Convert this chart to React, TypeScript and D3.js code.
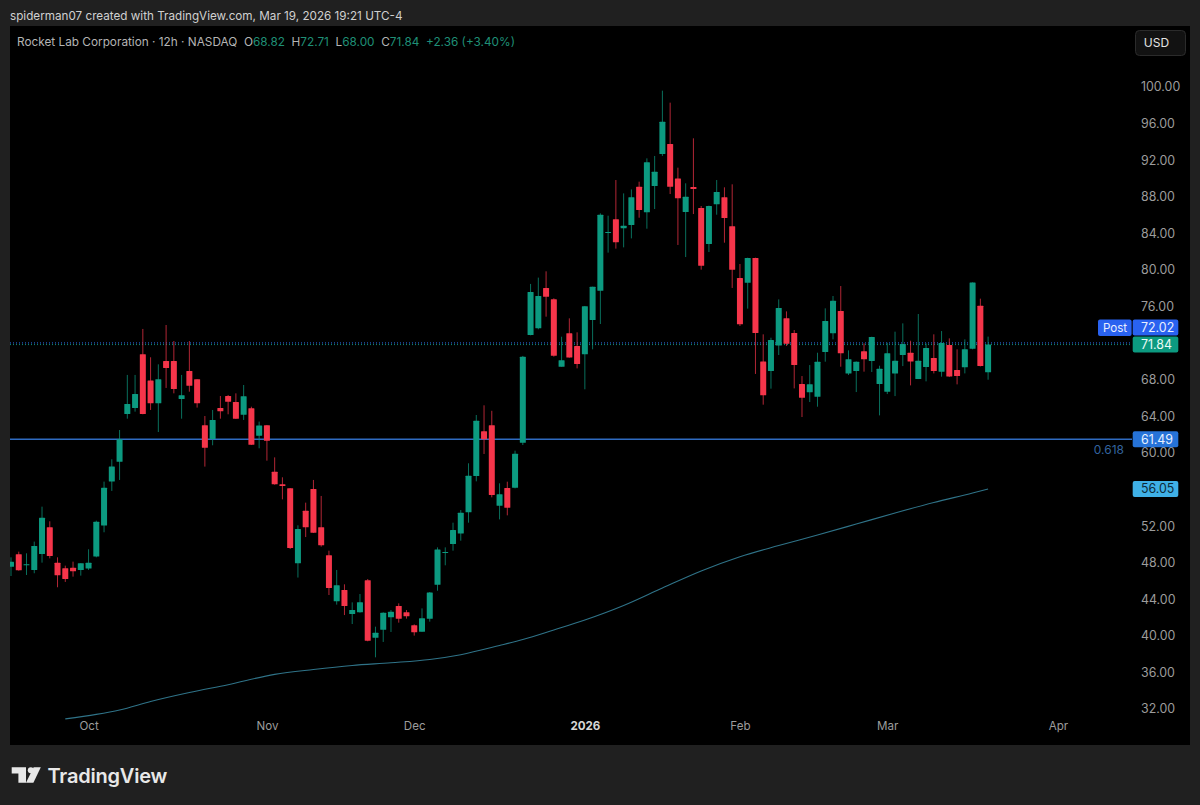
import React, { useEffect, useRef } from "react";
import * as d3 from "d3";

const WIDTH = 1200;
const HEIGHT = 805;
const FONT = "Inter, 'Noto Sans', sans-serif";

// 12h candles
const opens = [
  47.56, 48.91, 47.75, 47.2, 48.95, 51.86, 48.0, 47.38, 47.45, 47.2,
  47.35, 48.66, 52.05, 56.86, 59.04, 64.25, 64.91, 70.78, 67.9, 65.42,
  70.05, 70.05, 65.89, 68.95, 68.04, 63.01, 61.52, 64.91, 66.22, 65.56,
  64.18, 64.87, 61.88, 63.01, 57.95, 56.56, 56.12, 47.93, 53.68, 56.05,
  51.86, 48.8, 43.77, 45.01, 42.39, 42.57, 46.07, 39.8, 40.67, 42.02,
  43.26, 42.57, 41.15, 40.45, 41.88, 45.59, 49.05, 50.04, 51.2, 53.5,
  57.47, 62.36, 63.01, 54.23, 56.16, 56.2, 61.12, 72.89, 73.62, 78.03,
  76.79, 69.42, 73.07, 71.68, 70.77, 74.53, 77.73, 84.04, 85.53, 84.55,
  84.91, 89.1, 86.3, 89.18, 92.67, 93.77, 90.0, 86.33, 89.07, 86.77,
  82.84, 87.17, 87.94, 84.77, 79.12, 78.61, 81.3, 69.98, 68.95, 71.75,
  74.71, 73.1, 67.53, 66.62, 66.14, 71.03, 73.07, 75.51, 68.69, 68.95,
  71.1, 70.04, 67.53, 66.69, 68.69, 70.7, 70.95, 68.07, 69.38, 70.37,
  68.88, 71.79, 69.06, 69.35, 71.39, 76.09, 68.82,
];
const highs = [
  48.58, 49.2, 49.02, 50.3, 54.12, 52.52, 48.58, 47.67, 48.11, 47.93,
  49.46, 52.59, 56.86, 59.3, 62.5, 68.52, 68.52, 73.55, 70.45, 69.68,
  73.98, 72.23, 68.52, 72.23, 68.04, 64.03, 64.69, 66.22, 66.33, 66.51,
  67.42, 65.05, 63.42, 63.05, 59.51, 57.33, 56.16, 52.08, 54.56, 57.04,
  55.29, 49.31, 47.2, 45.63, 43.66, 44.57, 46.21, 41.0, 42.57, 42.82,
  43.55, 42.82, 41.25, 43.0, 44.79, 49.67, 49.67, 52.37, 53.75, 58.86,
  64.14, 65.2, 64.6, 56.67, 56.85, 60.24, 70.6, 78.47, 79.16, 79.85,
  76.9, 72.7, 74.71, 73.18, 76.06, 78.17, 86.19, 85.93, 89.83, 88.37,
  88.8, 89.65, 92.2, 92.46, 99.6, 98.29, 91.18, 89.47, 94.39, 86.99,
  87.03, 89.83, 89.03, 89.36, 80.65, 81.34, 81.34, 72.96, 72.59, 76.78,
  75.47, 73.43, 68.4, 69.6, 70.95, 75.8, 77.15, 78.24, 71.21, 70.0,
  71.97, 72.7, 69.53, 72.05, 73.25, 74.16, 72.26, 75.18, 71.97, 72.96,
  73.32, 72.52, 71.32, 72.41, 78.64, 76.86, 72.71,
];
const lows = [
  46.54, 47.12, 46.65, 46.84, 48.0, 48.47, 45.31, 45.89, 46.47, 46.58,
  47.2, 48.58, 51.32, 55.84, 57.04, 63.74, 64.51, 64.22, 64.69, 62.28,
  67.1, 66.51, 63.74, 66.69, 64.95, 58.5, 60.83, 63.74, 64.22, 63.71,
  63.6, 60.86, 60.5, 59.15, 56.52, 54.92, 49.49, 46.37, 50.8, 51.24,
  49.75, 44.46, 43.41, 42.27, 41.29, 42.53, 39.4, 37.65, 39.33, 40.42,
  41.44, 41.88, 40.02, 40.45, 41.55, 44.93, 47.71, 49.31, 50.4, 52.37,
  56.89, 59.88, 55.14, 52.73, 53.17, 56.12, 60.86, 72.85, 73.51, 74.89,
  70.52, 69.42, 70.41, 69.24, 66.95, 71.32, 74.09, 81.89, 82.33, 82.47,
  83.45, 85.71, 84.51, 86.66, 92.46, 88.3, 82.73, 81.41, 86.11, 80.03,
  81.96, 86.04, 82.98, 78.03, 73.87, 75.77, 68.63, 65.27, 67.02, 70.7,
  71.68, 67.05, 63.92, 65.56, 65.05, 69.97, 72.41, 69.42, 68.51, 66.65,
  68.88, 68.84, 64.1, 66.43, 66.21, 69.49, 67.38, 68.07, 67.82, 68.69,
  68.33, 68.29, 67.49, 68.69, 71.32, 69.45, 68.0,
];
const closes = [
  48.11, 47.16, 47.82, 49.82, 52.92, 48.73, 46.62, 46.22, 47.05, 47.93,
  48.0, 52.48, 56.2, 58.5, 61.48, 65.35, 66.44, 64.25, 65.42, 68.04,
  69.28, 66.99, 66.29, 67.35, 65.42, 60.57, 63.6, 64.54, 65.6, 63.74,
  66.18, 60.9, 62.98, 61.34, 56.56, 56.38, 49.6, 51.68, 51.86, 51.28,
  49.89, 45.23, 45.52, 43.26, 42.82, 43.66, 39.47, 40.34, 42.53, 42.64,
  41.88, 42.13, 40.38, 41.91, 44.75, 49.45, 49.16, 51.57, 53.46, 57.51,
  63.52, 61.48, 55.39, 55.47, 54.01, 59.91, 70.52, 77.59, 77.15, 77.08,
  70.63, 70.12, 70.44, 69.72, 76.02, 78.17, 86.04, 84.15, 83.02, 84.84,
  87.94, 86.55, 91.77, 90.74, 96.21, 89.1, 87.83, 88.01, 88.85, 80.47,
  86.99, 88.52, 85.68, 80.03, 74.05, 81.3, 73.1, 66.29, 72.34, 75.83,
  71.94, 69.6, 66.03, 67.49, 69.97, 74.41, 76.64, 70.88, 70.23, 69.97,
  70.23, 72.67, 69.2, 70.88, 70.08, 71.9, 70.0, 70.08, 71.46, 68.95,
  72.0, 68.36, 68.4, 71.32, 78.64, 69.49, 71.84,
];

// moving average, readings at [candle index, price]
const maIndex = [7, 11, 14, 18, 23, 28, 34, 39, 44, 49, 54, 58, 63, 66, 70, 74, 79, 84, 89, 94, 99, 104, 109, 114, 119, 124, 126];
const maValue = [30.92, 31.41, 31.89, 32.82, 33.8, 34.66, 35.79, 36.32, 36.76, 37.06, 37.42, 37.94, 38.94, 39.59, 40.64, 41.73, 43.32, 45.23, 47.09, 48.65, 49.87, 51.02, 52.22, 53.43, 54.58, 55.61, 56.05];

const priceTicks = [100, 96, 92, 88, 84, 80, 76, 68, 64, 60, 52, 48, 44, 40, 36, 32];
const monthIndex = [10, 33, 52, 74, 94, 113, 135];
const monthLabels = ["Oct", "Nov", "Dec", "2026", "Feb", "Mar", "Apr"];

const fibPrice = 61.49;
const fibLabel = "0.618";
const postPrice = 72.02;
const lastPrice = 71.84;
const maLast = 56.05;

const legendParts = [
  { text: "Rocket Lab Corporation · 12h · NASDAQ  O", color: "#b4b4b4" },
  { text: "68.82", color: "#1f8f76" },
  { text: "  H", color: "#b4b4b4" },
  { text: "72.71", color: "#1f8f76" },
  { text: "  L", color: "#b4b4b4" },
  { text: "68.00", color: "#1f8f76" },
  { text: "  C", color: "#b4b4b4" },
  { text: "71.84", color: "#1f8f76" },
  { text: "  +2.36 (+3.40%)", color: "#1f8f76" },
];

const UP = "#0c9a80";
const DOWN = "#f5354a";

const App: React.FC = () => {
  const svgRef = useRef<SVGSVGElement>(null);

  useEffect(() => {
    if (!svgRef.current) return;
    const svg = d3.select(svgRef.current);
    svg.selectAll("*").remove();

    const x = d3.scaleLinear().domain([0, 126]).range([11, 988.1]);
    const y = d3.scaleLinear().domain([32, 100]).range([709, 87]);

    svg.append("rect").attr("width", WIDTH).attr("height", HEIGHT).attr("fill", "#202020");
    svg.append("rect").attr("x", 10).attr("y", 26).attr("width", 1180).attr("height", 719).attr("fill", "#000000");

    svg.append("defs").append("clipPath").attr("id", "plot")
      .append("rect").attr("x", 10).attr("y", 26).attr("width", 1122).attr("height", 719);

    // header
    svg.append("text").attr("x", 10).attr("y", 20)
      .attr("font-family", FONT).attr("font-size", 11.7).attr("fill", "#d0d0d0")
      .text("spiderman07 created with TradingView.com, Mar 19, 2026 19:21 UTC-4");

    const legend = svg.append("text").attr("x", 17).attr("y", 46)
      .attr("font-family", FONT).attr("font-size", 11.8).attr("xml:space", "preserve")
      .style("white-space", "pre");
    legendParts.forEach((p) => {
      legend.append("tspan").attr("fill", p.color).text(p.text);
    });

    const plot = svg.append("g").attr("clip-path", "url(#plot)");

    // fib level and last price lines
    plot.append("line").attr("x1", 10).attr("x2", 1132)
      .attr("y1", y(fibPrice)).attr("y2", y(fibPrice))
      .attr("stroke", "#2f6bc0").attr("stroke-width", 1.5);
    plot.append("line").attr("x1", 10).attr("x2", 1132)
      .attr("y1", y(lastPrice)).attr("y2", y(lastPrice))
      .attr("stroke", "#0f8d78").attr("stroke-width", 1).attr("stroke-dasharray", "1 2");
    plot.append("line").attr("x1", 10).attr("x2", 1132)
      .attr("y1", y(postPrice)).attr("y2", y(postPrice))
      .attr("stroke", "#2f6cf0").attr("stroke-width", 1).attr("stroke-dasharray", "1 2");

    // moving average
    const maLine = d3.line<number>()
      .x((_, i) => x(maIndex[i]))
      .y((d) => y(d))
      .curve(d3.curveMonotoneX);
    plot.append("path").datum(maValue)
      .attr("fill", "none").attr("stroke", "#2f7388").attr("stroke-width", 1.1)
      .attr("d", maLine);

    // candles
    const candles = plot.selectAll("g.candle").data(opens).enter().append("g").attr("class", "candle");
    candles.append("line")
      .attr("x1", (_, i) => x(i)).attr("x2", (_, i) => x(i))
      .attr("y1", (_, i) => y(highs[i])).attr("y2", (_, i) => y(lows[i]))
      .attr("stroke", (d, i) => (closes[i] >= d ? UP : DOWN))
      .attr("stroke-opacity", 0.72)
      .attr("stroke-width", 1);
    candles.append("rect")
      .attr("x", (_, i) => x(i) - 3)
      .attr("width", 6)
      .attr("y", (d, i) => y(Math.max(d, closes[i])))
      .attr("height", (d, i) => Math.max(1, Math.abs(y(d) - y(closes[i]))))
      .attr("rx", 0.5)
      .attr("fill", (d, i) => (closes[i] >= d ? UP : DOWN));

    // price axis
    const yAxis = svg.append("g").attr("transform", "translate(1141,0)")
      .call(d3.axisRight(y).tickValues(priceTicks).tickSize(0).tickPadding(0).tickFormat((d) => d3.format(".2f")(d as number)));
    yAxis.select(".domain").remove();
    yAxis.selectAll("text")
      .attr("font-family", FONT).attr("font-size", 12.4).attr("fill", "#9c9c9c");

    // time axis
    const xAxis = svg.append("g").attr("transform", "translate(0,722)")
      .call(d3.axisBottom(x).tickValues(monthIndex).tickSize(0).tickPadding(0)
        .tickFormat((_, i) => monthLabels[i]));
    xAxis.select(".domain").remove();
    xAxis.selectAll("text")
      .attr("font-family", FONT).attr("font-size", 11.6)
      .attr("font-weight", (_, i) => (monthLabels[i] === "2026" ? 700 : 400))
      .attr("fill", (_, i) => (monthLabels[i] === "2026" ? "#d6d6d6" : "#9c9c9c"));

    // price labels
    const tag = (label: string, bg: string, fg: string, yc: number) => {
      svg.append("rect").attr("x", 1132.7).attr("y", yc - 8).attr("width", 45.6).attr("height", 16)
        .attr("rx", 2).attr("fill", bg);
      svg.append("text").attr("x", 1141).attr("y", yc + 4.4)
        .attr("font-family", FONT).attr("font-size", 12.4).attr("fill", fg).text(label);
    };
    tag(d3.format(".2f")(postPrice), "#2962f0", "#e8eeff", y(postPrice) - 15.4);
    tag(d3.format(".2f")(lastPrice), "#0c9a80", "#e9fbf6", y(lastPrice));
    tag(d3.format(".2f")(fibPrice), "#2673d8", "#e6f0ff", y(fibPrice));
    tag(d3.format(".2f")(maLast), "#3fb0e6", "#0d2a3a", y(maLast));

    svg.append("rect").attr("x", 1098).attr("y", y(postPrice) - 23.4).attr("width", 33.6).attr("height", 16.4)
      .attr("rx", 2).attr("fill", "#2962f0");
    svg.append("text").attr("x", 1115).attr("y", y(postPrice) - 11)
      .attr("text-anchor", "middle").attr("font-family", FONT).attr("font-size", 11.6).attr("fill", "#e8eeff")
      .text("Post");

    svg.append("text").attr("x", 1124).attr("y", y(fibPrice) + 14.5)
      .attr("text-anchor", "end").attr("font-family", FONT).attr("font-size", 12).attr("fill", "#33649f")
      .text(fibLabel);

    // currency button
    svg.append("rect").attr("x", 1135.5).attr("y", 30.5).attr("width", 50).attr("height", 25)
      .attr("rx", 4).attr("fill", "#121212").attr("stroke", "#2b2b2b");
    svg.append("text").attr("x", 1156.5).attr("y", 47.4).attr("text-anchor", "middle")
      .attr("font-family", FONT).attr("font-size", 12).attr("fill", "#e4e4e4")
      .text("USD");

    // logo
    const logo = svg.append("g").attr("fill", "#e8e8e8");
    logo.append("polygon").attr("points", "11.7,767.3 26,767.3 26,782.7 18.4,782.7 18.4,773.4 11.7,773.4");
    logo.append("circle").attr("cx", 30.8).attr("cy", 770.3).attr("r", 3);
    logo.append("polygon").attr("points", "33.6,767.3 40.8,767.3 33.4,782.7 26,782.7");
    svg.append("text").attr("x", 47.5).attr("y", 783)
      .attr("font-family", FONT).attr("font-size", 20).attr("font-weight", 600).attr("fill", "#e8e8e8")
      .attr("letter-spacing", -0.2)
      .text("TradingView");
  }, []);

  return (
    <svg
      ref={svgRef}
      width={WIDTH}
      height={HEIGHT}
      viewBox={`0 0 ${WIDTH} ${HEIGHT}`}
      style={{ position: "fixed", left: 0, top: 0, display: "block" }}
    />
  );
};

export default App;
